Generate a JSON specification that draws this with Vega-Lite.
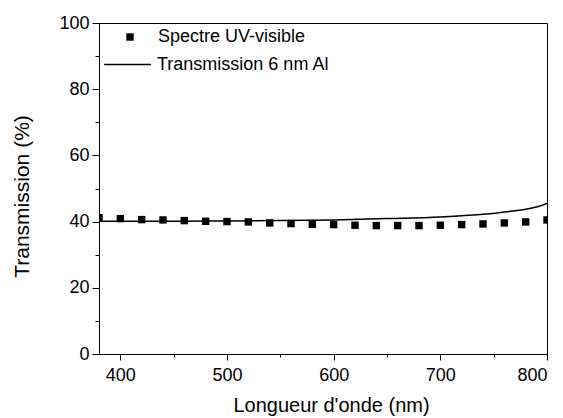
{
  "$schema": "https://vega.github.io/schema/vega-lite/v6.json",
  "autosize": "none",
  "width": 448,
  "height": 331,
  "padding": {"left": 99, "top": 23, "right": 16, "bottom": 64},
  "background": "white",
  "config": {
    "font": "Liberation Sans",
    "view": {"stroke": "black", "strokeWidth": 1},
    "axis": {"domainColor": "black", "tickColor": "black", "labelColor": "black", "titleColor": "black", "grid": false, "labelFont": "Liberation Sans", "titleFont": "Liberation Sans", "labelFontSize": 18, "titleFontSize": 20, "titleFontWeight": "normal"},
    "legend": {"labelFont": "Liberation Sans", "labelFontSize": 18, "labelColor": "black", "padding": 0, "labelLimit": 0}
  },
  "datasets": {
    "pts": [
      {"nm": 380, "T": 41.2, "s": "Spectre UV-visible"},
      {"nm": 400, "T": 40.9, "s": "Spectre UV-visible"},
      {"nm": 420, "T": 40.6, "s": "Spectre UV-visible"},
      {"nm": 440, "T": 40.5, "s": "Spectre UV-visible"},
      {"nm": 460, "T": 40.3, "s": "Spectre UV-visible"},
      {"nm": 480, "T": 40.1, "s": "Spectre UV-visible"},
      {"nm": 500, "T": 40.0, "s": "Spectre UV-visible"},
      {"nm": 520, "T": 39.9, "s": "Spectre UV-visible"},
      {"nm": 540, "T": 39.6, "s": "Spectre UV-visible"},
      {"nm": 560, "T": 39.4, "s": "Spectre UV-visible"},
      {"nm": 580, "T": 39.2, "s": "Spectre UV-visible"},
      {"nm": 600, "T": 39.1, "s": "Spectre UV-visible"},
      {"nm": 620, "T": 38.9, "s": "Spectre UV-visible"},
      {"nm": 640, "T": 38.8, "s": "Spectre UV-visible"},
      {"nm": 660, "T": 38.8, "s": "Spectre UV-visible"},
      {"nm": 680, "T": 38.8, "s": "Spectre UV-visible"},
      {"nm": 700, "T": 38.9, "s": "Spectre UV-visible"},
      {"nm": 720, "T": 39.1, "s": "Spectre UV-visible"},
      {"nm": 740, "T": 39.3, "s": "Spectre UV-visible"},
      {"nm": 760, "T": 39.6, "s": "Spectre UV-visible"},
      {"nm": 780, "T": 39.9, "s": "Spectre UV-visible"},
      {"nm": 800, "T": 40.5, "s": "Spectre UV-visible"}
    ],
    "line": [
      {"nm": 380, "T": 40.1, "s": "Transmission 6 nm Al"},
      {"nm": 400, "T": 40.1, "s": "Transmission 6 nm Al"},
      {"nm": 450, "T": 40.1, "s": "Transmission 6 nm Al"},
      {"nm": 500, "T": 40.2, "s": "Transmission 6 nm Al"},
      {"nm": 550, "T": 40.3, "s": "Transmission 6 nm Al"},
      {"nm": 600, "T": 40.5, "s": "Transmission 6 nm Al"},
      {"nm": 650, "T": 40.9, "s": "Transmission 6 nm Al"},
      {"nm": 700, "T": 41.4, "s": "Transmission 6 nm Al"},
      {"nm": 720, "T": 41.8, "s": "Transmission 6 nm Al"},
      {"nm": 740, "T": 42.2, "s": "Transmission 6 nm Al"},
      {"nm": 760, "T": 42.9, "s": "Transmission 6 nm Al"},
      {"nm": 780, "T": 43.7, "s": "Transmission 6 nm Al"},
      {"nm": 790, "T": 44.4, "s": "Transmission 6 nm Al"},
      {"nm": 800, "T": 45.5, "s": "Transmission 6 nm Al"}
    ]
  },
  "resolve": {"axis": {"x": "independent", "y": "independent"}},
  "layer": [
    {
      "data": {"name": "pts"},
      "mark": {"type": "point", "shape": "square", "filled": true, "color": "black", "size": 55, "opacity": 1, "clip": true},
      "encoding": {
        "x": {"field": "nm", "type": "quantitative", "scale": {"domain": [380, 800], "nice": false, "zero": false},
          "axis": {"title": "Longueur d'onde (nm)", "values": [400, 500, 600, 700, 800], "tickSize": 6, "labelPadding": 6, "titlePadding": 11, "titleX": 232}},
        "y": {"field": "T", "type": "quantitative", "scale": {"domain": [0, 100], "nice": false},
          "axis": {"title": "Transmission (%)", "titleFontSize": 21, "values": [0, 20, 40, 60, 80, 100], "tickSize": 7, "labelPadding": 3, "titlePadding": 26, "titleY": 173}},
        "shape": {"field": "s", "type": "nominal", "scale": {"range": ["square"]},
          "legend": {"title": null, "orient": "none", "legendX": 22, "legendY": 5, "symbolSize": 55, "symbolFillColor": "black", "symbolStrokeColor": "black", "symbolStrokeWidth": 0, "labelOffset": 19}}
      }
    },
    {
      "data": {"name": "line"},
      "mark": {"type": "line", "color": "black", "strokeWidth": 1.5, "interpolate": "monotone", "clip": true},
      "encoding": {
        "x": {"field": "nm", "type": "quantitative",
          "axis": {"orient": "bottom", "title": null, "labels": false, "domain": false, "values": [450, 550, 650, 750], "tickSize": 3}},
        "y": {"field": "T", "type": "quantitative",
          "axis": {"orient": "left", "title": null, "labels": false, "domain": false, "values": [10, 30, 50, 70, 90], "tickSize": 4}},
        "color": {"field": "s", "type": "nominal", "scale": {"range": ["black"]},
          "legend": {"title": null, "orient": "none", "legendX": 4, "legendY": 17, "symbolType": "stroke", "symbolSize": 2180, "symbolStrokeWidth": 1.5, "symbolStrokeColor": "black", "labelOffset": 5}}
      }
    }
  ]
}
